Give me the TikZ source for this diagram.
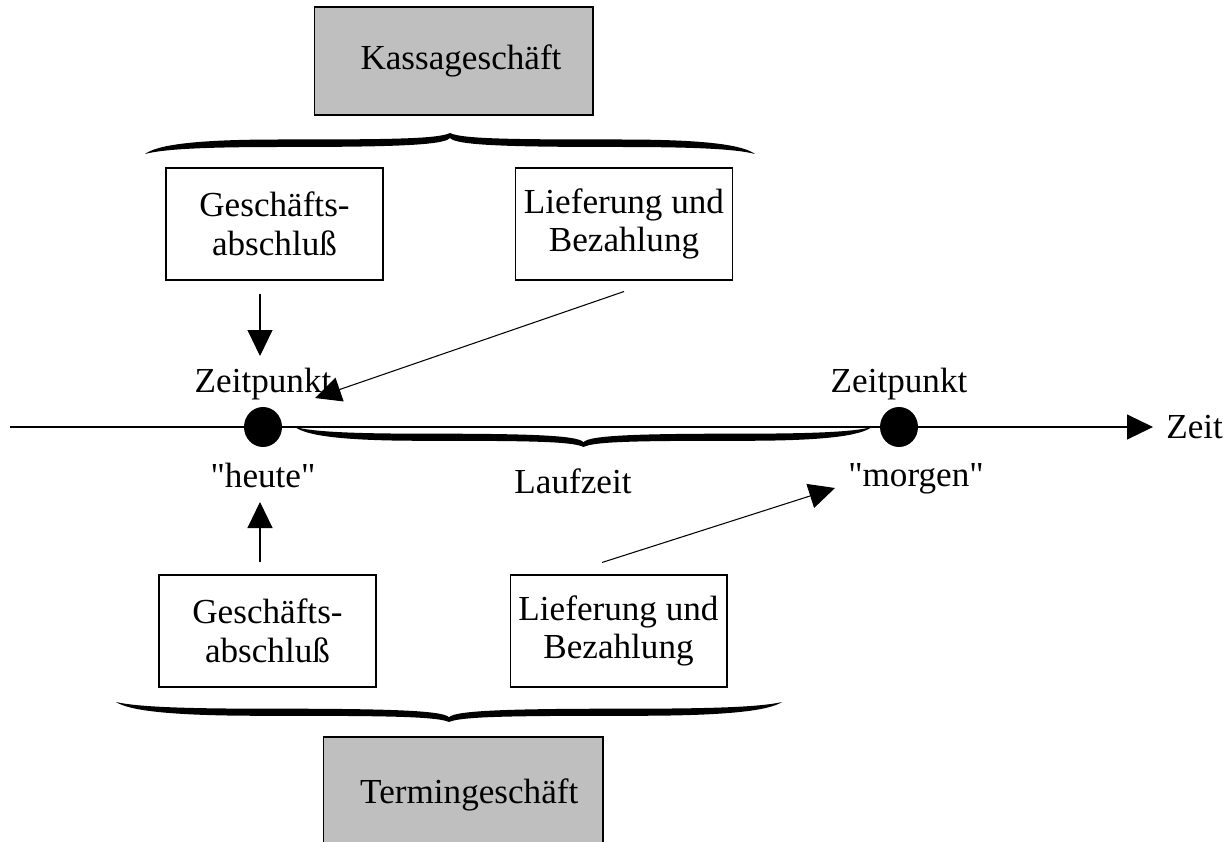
\documentclass[tikz,border=0pt]{standalone}
\usepackage{fontspec}
\setmainfont{Liberation Serif}
\usetikzlibrary{shapes,arrows.meta}

\tikzset{
	tbrace/.pic={
		\fill (0,0) .. controls (0.02,9) and (0.08,14.5) .. (0.22,14.5)
		.. controls (0.4,14.5) and (0.48,15) .. (0.5,21)
		.. controls (0.52,15) and (0.6,14.5) .. (0.78,14.5)
		.. controls (0.92,14.5) and (0.98,9) .. (1,0)
		.. controls (0.97,5) and (0.9,7) .. (0.78,7)
		.. controls (0.6,7) and (0.51,8.5) .. (0.5,16)
		.. controls (0.49,8.5) and (0.4,7) .. (0.22,7)
		.. controls (0.1,7) and (0.03,5) .. (0,0) -- cycle;
	}
}

\begin{document}
\begin{tikzpicture}[x=0.02cm,y=-0.02cm,
	every node/.style={font=\fontsize{20}{22}\selectfont},
	box/.style={draw,line width=0.6pt,inner sep=0pt,align=center,minimum width=4.34cm,minimum height=2.24cm},
	head/.style={box,fill=black!25,minimum width=5.6cm},
	arr/.style={line width=0.6pt,-{Triangle[length=0.52cm,width=0.5cm]}},
	dot/.style={ellipse,fill,inner sep=0pt,minimum width=0.76cm,minimum height=0.8cm}]
	\clip (0,0) rectangle (1226,841);
	
	% Kassa oben
	\node (kassa) at (453.5,61) [head,minimum width=5.58cm,minimum height=2.16cm] {\hspace*{0.3cm}Kassageschäft};
	\pic[xscale=610,yscale=-1] at (145,154) {tbrace};
	\node (abschlussO) at (274.5,224) [box] {Geschäfts-\\abschluß};
	\node (lieferungO) at (624,224) [box] {Lieferung und\\Bezahlung};
	
	% Zeitachse
	\draw [arr] (10,427) -- (1153,427) node (zeit) [right,xshift=0.14cm] {Zeit};
	\node (heute) at (263,427) [dot, label={90:Zeitpunkt}, label={[label distance=0.2cm]270:\textquotedbl heute\textquotedbl}] {};
	\node (morgen) at (899,427) [dot, label={90:Zeitpunkt}, label={[label distance=0.2cm,xshift=0.34cm]270:\textquotedbl morgen\textquotedbl}] {};
	\pic[xscale=577,yscale=0.95] at (295,427) {tbrace};
	\node (laufzeit) at (573,481) {Laufzeit};
	
	% Termin unten
	\node (abschlussU) at (267.5,631) [box] {Geschäfts-\\abschluß};
	\node (lieferungU) at (618.5,631) [box] {Lieferung und\\Bezahlung};
	\pic[xscale=666,yscale=0.95] at (116,702) {tbrace};
	\node (termin) at (463,795) [head,minimum height=2.32cm] {\hspace*{0.25cm}Termingeschäft};
	
	% Pfeile
	\coordinate (t1) at (260,356);
	\coordinate (t2) at (315,398);
	\coordinate (t3) at (260,502);
	\coordinate (t4) at (835,488);
	\draw [arr, shorten <=0.26cm] (abschlussO.south -| t1) -- (t1);
	\draw [arr] ([yshift=-0.22cm]lieferungO.south) -- (t2);
	\draw [arr, shorten <=0.24cm] (abschlussU.north -| t3) -- (t3);
	\draw [arr] ([xshift=-0.33cm,yshift=0.24cm]lieferungU.north) -- (t4);
\end{tikzpicture}
\end{document}
